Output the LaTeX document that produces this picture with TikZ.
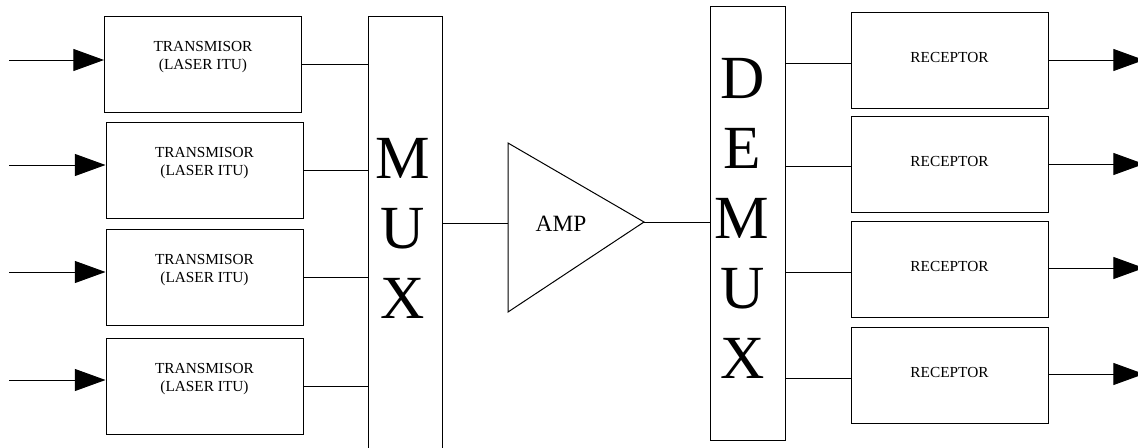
\documentclass[tikz,border=0pt]{standalone}
\usepackage{fontspec}
\setmainfont{Liberation Serif}
\usetikzlibrary{arrows.meta}

\tikzset{
  blk/.style={draw, line width=0.75pt, minimum width=147.75pt, minimum height=72pt, inner sep=0pt},
  tx/.style={blk, label={[font=\fontsize{11.5}{13.5}\selectfont, align=center, yshift=5.25pt]center:TRANSMISOR\\(LASER ITU)}},
  rx/.style={blk, label={[font=\fontsize{11.5}{13.5}\selectfont, yshift=2pt]center:RECEPTOR}},
  bus/.style={draw, line width=0.75pt, inner sep=0pt},
  big/.style={font=\fontsize{46}{52.5}\selectfont, align=center},
  wire/.style={line width=0.75pt},
  sig/.style={wire, -{Triangle[length=23pt,width=16.5pt]}},
}

\begin{document}
\begin{tikzpicture}[x=0.75pt,y=-0.75pt]
            \useasboundingbox (0,0) rectangle (1138,447);

            \node[tx] (tx1) at (203,64) {};
            \node[tx] (tx2) at (204.5,170) {};
            \node[tx] (tx3) at (204.5,277) {};
            \node[tx] (tx4) at (204.5,386.5) {};

            \node[bus, minimum width=55.5pt, minimum height=340.5pt, label={[big, xshift=-1.5pt, yshift=10.9pt]center:M\\U\\X}] (mux) at (405,243) {};
            \node[bus, minimum width=56.25pt, minimum height=325.5pt, label={[big, xshift=-4pt, yshift=3.75pt]center:D\\E\\M\\U\\X}] (demux) at (747.5,223) {};

            \node[rx] (rx1) at (949.5,60) {};
            \node[rx] (rx2) at (949.5,164) {};
            \node[rx] (rx3) at (949.5,269.5) {};
            \node[rx] (rx4) at (949.5,375) {};

            % amplifier
            \coordinate (ampin) at (508,223);
            \coordinate (ampout) at (644,222);
            \draw[wire] (508,143) -- (ampout) -- (508,312) -- cycle;
            \node[font=\fontsize{17.5}{20}\selectfont] (amp) at (561,224) {AMP};
            \draw[wire] (ampin -| mux.east) to (ampin); \draw[wire] (ampout) to (ampout -| demux.west);

            % inputs
            \coordinate (in1) at (9,60); \coordinate (in2) at (9,165);
            \coordinate (in3) at (9,272); \coordinate (in4) at (9,380);
            \draw[sig] (in1) to (in1 -| tx1.west); \draw[sig] (in2) to (in2 -| tx2.west);
            \draw[sig] (in3) to (in3 -| tx3.west); \draw[sig] (in4) to (in4 -| tx4.west);

            \draw[wire] (tx1.east) to (tx1.east -| mux.west); \draw[wire] (tx2.east) to (tx2.east -| mux.west);
            \draw[wire] (tx3.east) to (tx3.east -| mux.west); \draw[wire] (tx4.east) to (tx4.east -| mux.west);

            % outputs
            \coordinate (r1) at (850,63); \coordinate (r2) at (850,166);
            \coordinate (r3) at (850,272); \coordinate (r4) at (850,378);
            \draw[wire] (demux.east |- r1) to (rx1.west |- r1); \draw[wire] (demux.east |- r2) to (rx2.west |- r2);
            \draw[wire] (demux.east |- r3) to (rx3.west |- r3); \draw[wire] (demux.east |- r4) to (rx4.west |- r4);

            \coordinate (out1) at (1144,60); \coordinate (out2) at (1144,164);
            \coordinate (out3) at (1144,268); \coordinate (out4) at (1144,374);
            \draw[sig] (rx1.east |- out1) to (out1); \draw[sig] (rx2.east |- out2) to (out2);
            \draw[sig] (rx3.east |- out3) to (out3); \draw[sig] (rx4.east |- out4) to (out4);
        \end{tikzpicture}
\end{document}
